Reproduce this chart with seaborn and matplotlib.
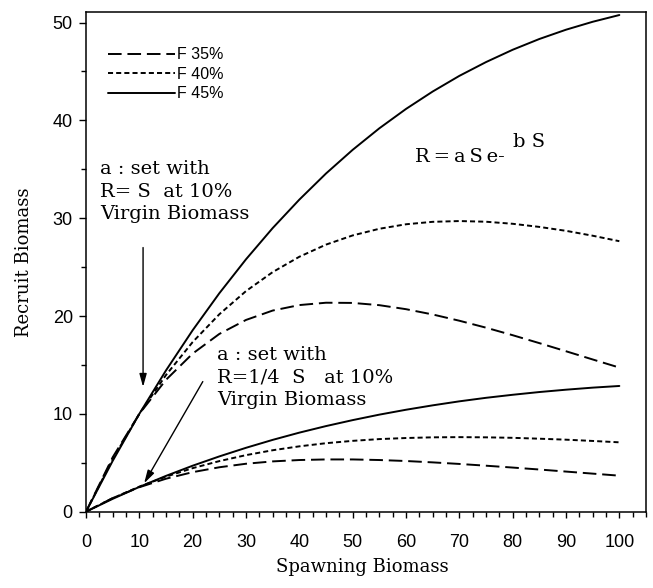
import pandas as pd
import matplotlib
matplotlib.use('Agg')
import matplotlib.pyplot as plt
from matplotlib.lines import Line2D
from matplotlib.ticker import MultipleLocator
import seaborn as sns

# spawning biomass positions
spawning = [0, 5, 10, 15, 20, 25, 30, 35, 40, 45, 50,
            55, 60, 65, 70, 75, 80, 85, 90, 95, 100]

# upper curves: a set with R = S at 10% virgin biomass
f35_high = [0, 5.56, 10.0, 13.48, 16.16, 18.17, 19.60, 20.56, 21.12, 21.36, 21.34,
            21.11, 20.70, 20.16, 19.52, 18.81, 18.04, 17.23, 16.40, 15.56, 14.73]
f40_high = [0, 5.37, 10.0, 13.97, 17.34, 20.18, 22.55, 24.49, 26.06, 27.30, 28.24,
            28.92, 29.38, 29.63, 29.71, 29.64, 29.43, 29.11, 28.71, 28.21, 27.65]
f45_high = [0, 5.19, 10.0, 14.44, 18.55, 22.33, 25.80, 28.99, 31.90, 34.57, 36.99,
            39.19, 41.17, 42.95, 44.55, 45.96, 47.22, 48.32, 49.27, 50.08, 50.77]

# lower curves: a set with R = 1/4 S at 10% virgin biomass
f35_low = [0, 1.39, 2.50, 3.37, 4.04, 4.54, 4.90, 5.14, 5.28, 5.34, 5.34,
           5.28, 5.18, 5.04, 4.88, 4.70, 4.51, 4.31, 4.10, 3.89, 3.68]
f40_low = [0, 1.38, 2.56, 3.58, 4.45, 5.17, 5.78, 6.28, 6.68, 7.00, 7.24,
           7.42, 7.53, 7.60, 7.62, 7.60, 7.55, 7.46, 7.36, 7.23, 7.09]
f45_low = [0, 1.31, 2.53, 3.66, 4.70, 5.65, 6.53, 7.34, 8.08, 8.75, 9.36,
           9.92, 10.42, 10.87, 11.28, 11.64, 11.95, 12.23, 12.47, 12.68, 12.85]

labels = ['F 35%', 'F 40%', 'F 45%']

sns.set_style('ticks')
plt.rcParams['font.family'] = ['Liberation Sans', 'DejaVu Sans']
for key in ['text.color', 'axes.labelcolor', 'xtick.color', 'ytick.color', 'axes.edgecolor']:
    plt.rcParams[key] = 'black'

frames = []
for lab, hi, lo in zip(labels, [f35_high, f40_high, f45_high], [f35_low, f40_low, f45_low]):
    frames.append(pd.DataFrame({'S': spawning, 'R': hi, 'F': lab, 'group': lab + ' high'}))
    frames.append(pd.DataFrame({'S': spawning, 'R': lo, 'F': lab, 'group': lab + ' low'}))
df = pd.concat(frames, ignore_index=True)

dash_map = {'F 35%': (7, 3), 'F 40%': (2.6, 1.6), 'F 45%': ''}
lw = 1.4

fig = plt.figure(figsize=(6.53, 5.88), dpi=100)
ax = fig.add_axes([0.1317, 0.1298, 0.8576, 0.8493])

sns.lineplot(data=df, x='S', y='R', style='F', units='group', estimator=None,
             dashes=dash_map, color='black', linewidth=lw, legend=False,
             sort=False, ax=ax)

ax.set_xlim(0, 105)
ax.set_ylim(0, 51.05)
ax.xaxis.set_major_locator(MultipleLocator(10))
ax.xaxis.set_minor_locator(MultipleLocator(2.5))
ax.yaxis.set_major_locator(MultipleLocator(10))
ax.yaxis.set_minor_locator(MultipleLocator(5))
ax.tick_params(axis='both', which='both', direction='out', color='black',
               width=1.0, labelsize=13, labelcolor='black')
ax.tick_params(axis='x', which='major', length=4, pad=12)
ax.tick_params(axis='x', which='minor', length=3.6)
ax.tick_params(axis='y', which='major', length=5, pad=4.5)
ax.tick_params(axis='y', which='minor', length=3.6)
for sp in ax.spines.values():
    sp.set_linewidth(1.1)
    sp.set_color('black')

ax.set_xlabel('Spawning Biomass', family='DejaVu Serif', fontsize=13)
ax.set_ylabel('Recruit Biomass', family='DejaVu Serif', fontsize=13)
ax.xaxis.set_label_coords(0.493, -0.093)
ax.yaxis.set_label_coords(-0.094, 0.5)

# legend drawn with the same line styles
handles = [Line2D([], [], color='black', lw=lw, linestyle=(0, dash_map[l]) if dash_map[l] else '-')
           for l in labels]
ax.legend(handles, labels, loc='upper left', bbox_to_anchor=(0.039, 0.93),
          frameon=False, fontsize=11.5, handlelength=4.2, handletextpad=0.12,
          labelspacing=0.28, borderpad=0, borderaxespad=0)

# annotations
ax.text(2.6, 32.7, 'a : set with\nR= S  at 10%\nVirgin Biomass', family='DejaVu Serif',
        fontsize=14, ha='left', va='center', linespacing=1.32)
ax.text(24.6, 13.75, 'a : set with\nR=1/4  S   at 10%\nVirgin Biomass', family='DejaVu Serif',
        fontsize=14, ha='left', va='center', linespacing=1.32)
ax.text(61.7, 35.7, 'R\u2009=\u2009a\u2009S\u2009e-', family='DejaVu Serif', fontsize=14,
        va='baseline')
ax.text(80.0, 37.3, 'b S', family='DejaVu Serif', fontsize=14, va='baseline')

arrow = dict(arrowstyle='-|>,head_length=0.65,head_width=0.18', lw=1.0, color='black',
             shrinkA=0, shrinkB=0, mutation_scale=12)
ax.annotate('', xy=(10.7, 12.75), xytext=(10.7, 27.0), arrowprops=arrow)
ax.annotate('', xy=(10.9, 2.9), xytext=(21.9, 13.3), arrowprops=arrow)

fig.savefig('out.png', dpi=100)
